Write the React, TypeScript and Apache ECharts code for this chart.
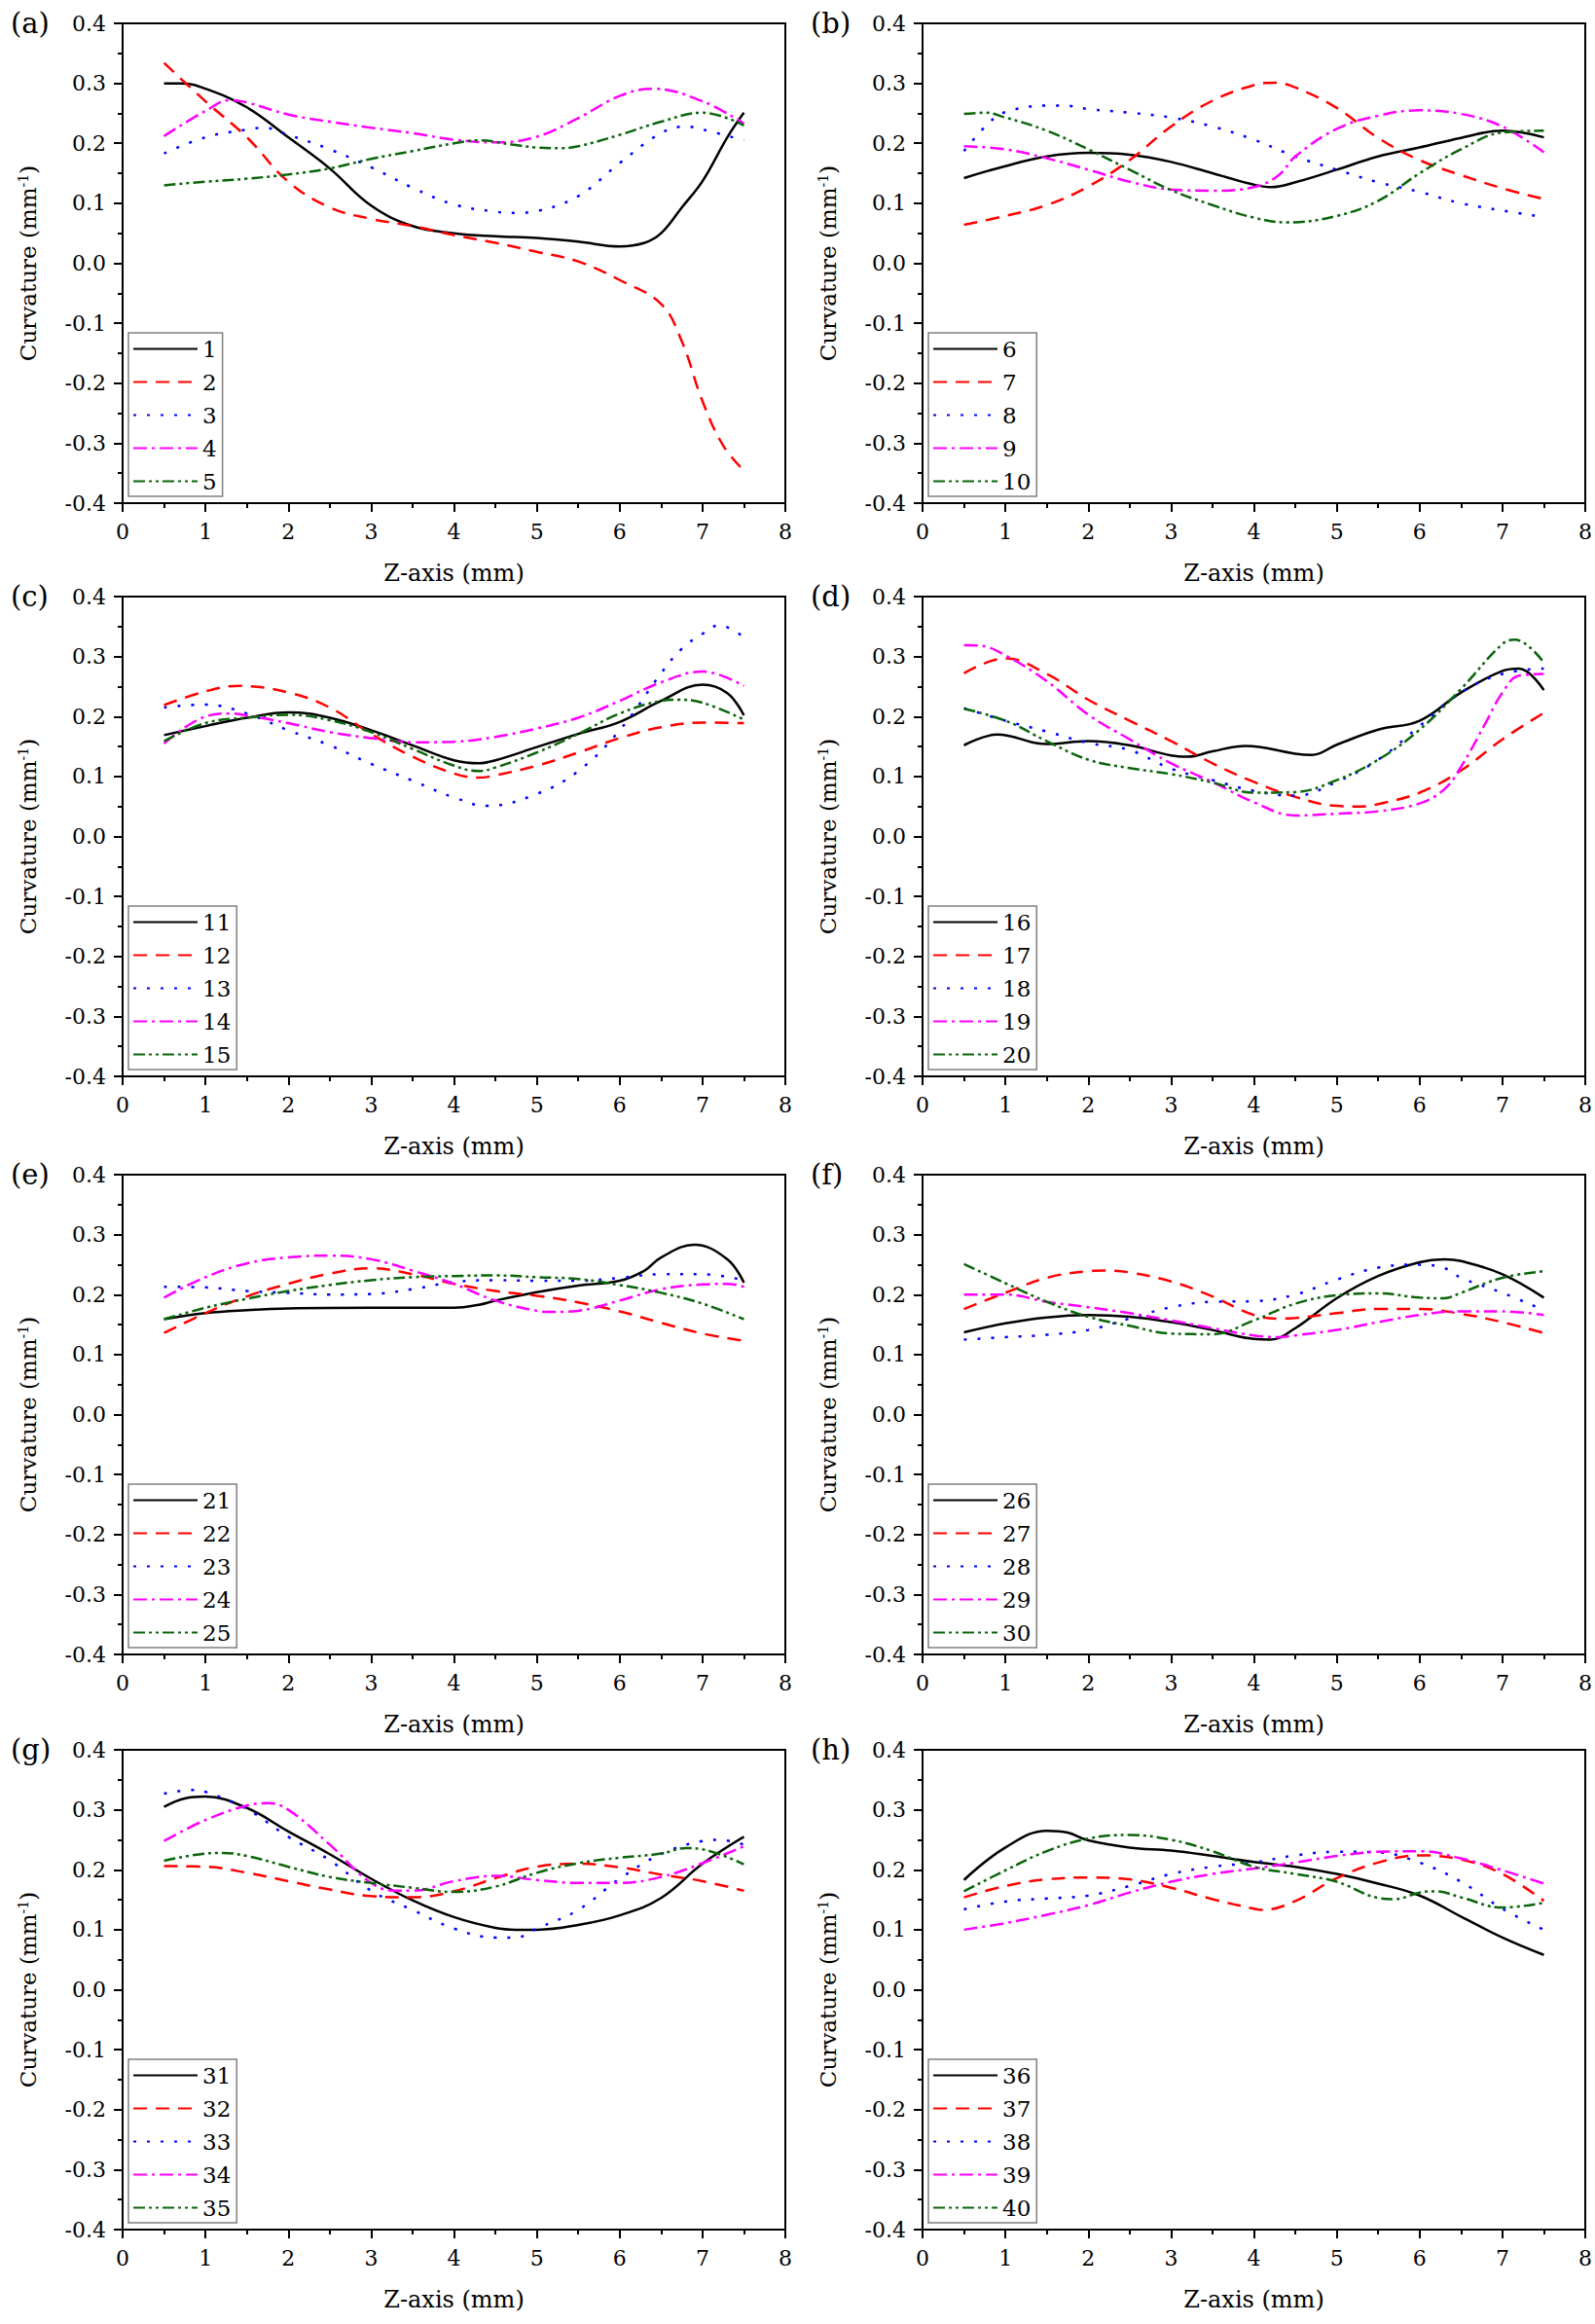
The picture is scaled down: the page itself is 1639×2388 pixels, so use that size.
import { useEffect, useRef } from 'react';
import * as echarts from 'echarts';

const FONT = 'DejaVu Serif';

// curvature (mm^-1) against z (mm), one array per line, as [z, curvature]
const s1 = [[0.5, 0.3], [0.7, 0.3], [1, 0.291], [1.5, 0.26], [2, 0.21], [2.5, 0.158], [3, 0.096], [3.5, 0.062], [4, 0.05], [4.5, 0.045], [5, 0.042], [5.5, 0.036], [6, 0.028], [6.3, 0.034], [6.5, 0.05], [6.75, 0.093], [7, 0.137], [7.3, 0.21], [7.5, 0.251]];
const s2 = [[0.5, 0.334], [1, 0.27], [1.5, 0.21], [2, 0.136], [2.5, 0.093], [3, 0.074], [3.5, 0.062], [4, 0.047], [4.5, 0.034], [5, 0.019], [5.5, 0.003], [6, -0.028], [6.5, -0.068], [6.75, -0.13], [7, -0.23], [7.25, -0.304], [7.5, -0.346]];
const s3 = [[0.5, 0.183], [1, 0.21], [1.5, 0.223], [1.7, 0.226], [2, 0.214], [2.5, 0.19], [3, 0.16], [3.5, 0.126], [4, 0.098], [4.5, 0.086], [4.75, 0.084], [5, 0.087], [5.5, 0.112], [6, 0.167], [6.5, 0.217], [6.8, 0.228], [7, 0.223], [7.5, 0.205]];
const s4 = [[0.5, 0.212], [1, 0.254], [1.3, 0.272], [1.5, 0.268], [2, 0.248], [2.5, 0.236], [3, 0.226], [3.5, 0.217], [4, 0.206], [4.5, 0.2015], [5, 0.211], [5.5, 0.242], [6, 0.279], [6.4, 0.291], [7, 0.27], [7.5, 0.233]];
const s5 = [[0.5, 0.13], [1, 0.136], [1.5, 0.141], [2, 0.148], [2.5, 0.158], [3, 0.174], [3.5, 0.187], [4, 0.2], [4.3, 0.205], [4.7, 0.198], [5, 0.193], [5.3, 0.192], [5.5, 0.195], [6, 0.214], [6.5, 0.236], [7, 0.251], [7.5, 0.23]];

const s6 = [[0.5, 0.142], [1, 0.162], [1.5, 0.178], [2, 0.184], [2.5, 0.181], [3, 0.169], [3.5, 0.15], [4, 0.131], [4.2, 0.127], [4.5, 0.135], [5, 0.156], [5.5, 0.178], [6, 0.193], [6.5, 0.209], [7, 0.221], [7.5, 0.21]];
const s7 = [[0.5, 0.064], [1, 0.079], [1.5, 0.097], [2, 0.128], [2.5, 0.172], [3, 0.228], [3.5, 0.271], [4, 0.297], [4.25, 0.301], [4.5, 0.293], [5, 0.259], [5.5, 0.209], [6, 0.172], [6.5, 0.147], [7, 0.125], [7.5, 0.107]];
const s8 = [[0.5, 0.187], [0.8, 0.234], [1, 0.252], [1.5, 0.263], [1.7, 0.263], [2, 0.257], [2.5, 0.251], [3, 0.243], [3.5, 0.228], [4, 0.206], [4.5, 0.178], [5, 0.156], [5.5, 0.135], [6, 0.119], [6.5, 0.1], [7, 0.088], [7.5, 0.077]];
const s9 = [[0.5, 0.195], [1, 0.19], [1.5, 0.175], [2, 0.156], [2.5, 0.136], [3, 0.123], [3.5, 0.121], [4, 0.127], [4.3, 0.147], [4.5, 0.178], [5, 0.224], [5.5, 0.246], [6, 0.255], [6.5, 0.249], [7, 0.228], [7.5, 0.185]];
const s10 = [[0.5, 0.249], [0.75, 0.251], [1, 0.243], [1.5, 0.221], [2, 0.19], [2.5, 0.156], [3, 0.122], [3.5, 0.097], [4, 0.076], [4.4, 0.068], [5, 0.079], [5.5, 0.104], [6, 0.15], [6.5, 0.19], [7, 0.218], [7.5, 0.221]];

const s11 = [[0.5, 0.169], [1, 0.184], [1.5, 0.198], [2, 0.207], [2.5, 0.198], [3, 0.177], [3.5, 0.152], [4, 0.127], [4.3, 0.122], [4.5, 0.127], [5, 0.149], [5.5, 0.171], [6, 0.191], [6.5, 0.226], [7, 0.253], [7.3, 0.239], [7.5, 0.202]];
const s12 = [[0.5, 0.219], [1, 0.242], [1.4, 0.251], [2, 0.24], [2.5, 0.215], [3, 0.171], [3.5, 0.133], [4, 0.105], [4.3, 0.098], [4.5, 0.102], [5, 0.118], [5.5, 0.14], [6, 0.164], [6.5, 0.182], [7, 0.19], [7.5, 0.189]];
const s13 = [[0.5, 0.215], [1, 0.22], [1.5, 0.205], [2, 0.177], [2.5, 0.152], [3, 0.121], [3.5, 0.093], [4, 0.065], [4.4, 0.051], [5, 0.071], [5.5, 0.109], [6, 0.177], [6.5, 0.272], [6.75, 0.313], [7, 0.338], [7.2, 0.352], [7.5, 0.332]];
const s14 = [[0.5, 0.155], [1, 0.2], [1.3, 0.205], [1.5, 0.202], [2, 0.189], [2.5, 0.174], [3, 0.164], [3.5, 0.157], [4, 0.158], [4.5, 0.166], [5, 0.18], [5.5, 0.198], [6, 0.226], [6.5, 0.257], [7, 0.275], [7.5, 0.251]];
const s15 = [[0.5, 0.159], [1, 0.189], [1.5, 0.198], [2, 0.203], [2.5, 0.194], [3, 0.174], [3.5, 0.146], [4, 0.118], [4.3, 0.109], [4.5, 0.115], [5, 0.14], [5.5, 0.171], [6, 0.205], [6.5, 0.226], [6.7, 0.228], [7, 0.223], [7.5, 0.195]];

const s16 = [[0.5, 0.152], [0.9, 0.17], [1.5, 0.154], [2, 0.159], [2.5, 0.152], [3, 0.135], [3.2, 0.133], [3.5, 0.142], [3.9, 0.151], [4.5, 0.138], [4.7, 0.136], [5, 0.153], [5.5, 0.178], [6, 0.193], [6.5, 0.24], [7, 0.276], [7.2, 0.28], [7.5, 0.244]];
const s17 = [[0.5, 0.272], [1, 0.297], [1.5, 0.271], [2, 0.228], [2.5, 0.193], [3, 0.159], [3.5, 0.122], [4, 0.091], [4.5, 0.066], [5, 0.051], [5.3, 0.05], [5.5, 0.054], [6, 0.073], [6.5, 0.11], [7, 0.162], [7.5, 0.206]];
const s18 = [[0.5, 0.214], [1, 0.193], [1.5, 0.175], [2, 0.156], [2.5, 0.144], [3, 0.113], [3.5, 0.094], [4, 0.076], [4.5, 0.068], [5, 0.091], [5.5, 0.128], [6, 0.184], [6.5, 0.24], [7, 0.271], [7.5, 0.28]];
const s19 = [[0.5, 0.319], [0.7, 0.318], [1, 0.302], [1.5, 0.259], [2, 0.203], [2.5, 0.162], [3, 0.122], [3.5, 0.091], [4, 0.057], [4.5, 0.035], [5, 0.038], [5.5, 0.042], [6, 0.055], [6.3, 0.079], [6.5, 0.116], [6.8, 0.19], [7, 0.24], [7.2, 0.268], [7.5, 0.271]];
const s20 = [[0.5, 0.213], [1, 0.193], [1.5, 0.159], [2, 0.128], [2.5, 0.114], [3, 0.104], [3.5, 0.09], [4, 0.073], [4.5, 0.074], [5, 0.094], [5.5, 0.128], [6, 0.178], [6.5, 0.246], [7, 0.321], [7.15, 0.328], [7.5, 0.29]];

const s21 = [[0.5, 0.159], [1, 0.169], [1.5, 0.174], [2, 0.177], [3, 0.178], [4, 0.178], [4.3, 0.183], [4.5, 0.19], [5, 0.204], [5.5, 0.215], [6, 0.223], [6.3, 0.24], [6.5, 0.262], [6.9, 0.283], [7.3, 0.259], [7.5, 0.22]];
const s22 = [[0.5, 0.136], [1, 0.169], [1.5, 0.197], [2, 0.218], [2.5, 0.235], [3, 0.244], [3.5, 0.234], [4, 0.218], [4.5, 0.206], [5, 0.198], [5.5, 0.187], [6, 0.172], [6.5, 0.153], [7, 0.135], [7.5, 0.123]];
const s23 = [[0.5, 0.213], [1, 0.212], [1.5, 0.206], [2, 0.203], [2.5, 0.2], [3, 0.201], [3.5, 0.209], [4, 0.221], [4.5, 0.224], [5, 0.223], [5.5, 0.223], [6, 0.228], [6.5, 0.234], [7, 0.234], [7.5, 0.224]];
const s24 = [[0.5, 0.195], [1, 0.229], [1.5, 0.252], [2, 0.262], [2.5, 0.265], [3, 0.259], [3.5, 0.24], [4, 0.218], [4.5, 0.19], [5, 0.173], [5.2, 0.171], [5.5, 0.173], [6, 0.19], [6.5, 0.209], [7, 0.217], [7.3, 0.218], [7.5, 0.213]];
const s25 = [[0.5, 0.159], [1, 0.178], [1.5, 0.193], [2, 0.206], [2.5, 0.216], [3, 0.224], [3.5, 0.229], [4, 0.231], [4.5, 0.232], [5, 0.229], [5.5, 0.226], [6, 0.216], [6.5, 0.203], [7, 0.185], [7.5, 0.159]];

const s26 = [[0.5, 0.137], [1, 0.152], [1.5, 0.162], [2, 0.166], [2.5, 0.163], [3, 0.154], [3.5, 0.141], [4, 0.126], [4.2, 0.125], [4.5, 0.144], [5, 0.194], [5.5, 0.231], [6, 0.254], [6.3, 0.259], [6.5, 0.256], [7, 0.234], [7.5, 0.195]];
const s27 = [[0.5, 0.176], [1, 0.203], [1.5, 0.228], [2, 0.239], [2.2, 0.24], [2.5, 0.237], [3, 0.222], [3.5, 0.197], [4, 0.166], [4.3, 0.16], [4.5, 0.161], [5, 0.169], [5.5, 0.176], [6, 0.176], [6.5, 0.168], [7, 0.154], [7.5, 0.136]];
const s28 = [[0.5, 0.125], [1, 0.129], [1.5, 0.133], [2, 0.141], [2.5, 0.16], [3, 0.179], [3.5, 0.188], [4, 0.189], [4.5, 0.2], [5, 0.225], [5.5, 0.245], [6, 0.25], [6.3, 0.244], [6.5, 0.228], [7, 0.203], [7.5, 0.174]];
const s29 = [[0.5, 0.2], [1, 0.2], [1.5, 0.188], [2, 0.179], [2.5, 0.169], [3, 0.157], [3.5, 0.144], [4, 0.132], [4.3, 0.129], [4.5, 0.132], [5, 0.141], [5.5, 0.154], [6, 0.166], [6.5, 0.172], [7, 0.172], [7.5, 0.166]];
const s30 = [[0.5, 0.251], [1, 0.219], [1.5, 0.188], [2, 0.163], [2.5, 0.148], [3, 0.135], [3.5, 0.134], [4, 0.157], [4.5, 0.185], [5, 0.199], [5.5, 0.202], [6, 0.195], [6.3, 0.194], [6.5, 0.203], [7, 0.228], [7.5, 0.239]];

const s31 = [[0.5, 0.305], [0.75, 0.319], [1, 0.322], [1.5, 0.303], [2, 0.264], [2.5, 0.226], [3, 0.185], [3.5, 0.149], [4, 0.121], [4.5, 0.103], [4.75, 0.1], [5, 0.1], [5.5, 0.108], [6, 0.124], [6.5, 0.153], [7, 0.21], [7.5, 0.255]];
const s32 = [[0.5, 0.206], [1, 0.205], [1.5, 0.195], [2, 0.181], [2.5, 0.167], [3, 0.156], [3.5, 0.154], [4, 0.164], [4.5, 0.186], [5, 0.205], [5.5, 0.21], [6, 0.204], [6.5, 0.192], [7, 0.181], [7.5, 0.165]];
const s33 = [[0.5, 0.327], [0.85, 0.333], [1, 0.33], [1.5, 0.301], [2, 0.255], [2.5, 0.216], [3, 0.165], [3.5, 0.133], [4, 0.102], [4.5, 0.087], [4.75, 0.087], [5, 0.102], [5.5, 0.133], [6, 0.185], [6.5, 0.226], [7, 0.248], [7.2, 0.25], [7.5, 0.242]];
const s34 = [[0.5, 0.248], [1, 0.283], [1.5, 0.307], [1.75, 0.311], [2, 0.3], [2.5, 0.242], [3, 0.178], [3.3, 0.165], [3.5, 0.165], [4, 0.181], [4.5, 0.19], [5, 0.183], [5.5, 0.178], [6, 0.178], [6.5, 0.188], [7, 0.211], [7.5, 0.239]];
const s35 = [[0.5, 0.215], [1, 0.227], [1.2, 0.228], [1.5, 0.223], [2, 0.205], [2.5, 0.188], [3, 0.178], [3.5, 0.17], [4, 0.163], [4.5, 0.172], [5, 0.195], [5.5, 0.211], [6, 0.22], [6.5, 0.227], [6.8, 0.236], [7, 0.234], [7.5, 0.209]];

const s36 = [[0.5, 0.183], [1, 0.237], [1.5, 0.265], [1.75, 0.262], [2, 0.249], [2.5, 0.237], [3, 0.232], [3.5, 0.223], [4, 0.213], [4.5, 0.205], [5, 0.193], [5.5, 0.177], [6, 0.157], [6.5, 0.122], [7, 0.087], [7.5, 0.058]];
const s37 = [[0.5, 0.154], [1, 0.173], [1.5, 0.184], [2, 0.187], [2.5, 0.184], [3, 0.17], [3.5, 0.151], [4, 0.135], [4.1, 0.133], [4.5, 0.148], [5, 0.186], [5.5, 0.212], [6, 0.224], [6.5, 0.217], [7, 0.193], [7.5, 0.148]];
const s38 = [[0.5, 0.134], [1, 0.147], [1.5, 0.152], [2, 0.157], [2.5, 0.173], [3, 0.193], [3.5, 0.205], [4, 0.212], [4.5, 0.224], [5, 0.23], [5.5, 0.229], [6, 0.212], [6.5, 0.18], [7, 0.135], [7.5, 0.1]];
const s39 = [[0.5, 0.1], [1, 0.111], [1.5, 0.125], [2, 0.141], [2.5, 0.162], [3, 0.18], [3.5, 0.193], [4, 0.202], [4.5, 0.212], [5, 0.223], [5.5, 0.23], [6, 0.231], [6.5, 0.219], [7, 0.199], [7.5, 0.177]];
const s40 = [[0.5, 0.164], [1, 0.199], [1.5, 0.231], [2, 0.252], [2.5, 0.258], [3, 0.25], [3.5, 0.231], [4, 0.205], [4.5, 0.193], [5, 0.18], [5.5, 0.153], [5.7, 0.151], [6, 0.162], [6.2, 0.164], [6.5, 0.154], [7, 0.137], [7.5, 0.145]];

const panelLabels = ['(a)', '(b)', '(c)', '(d)', '(e)', '(f)', '(g)', '(h)'];
const panelSeries = [
  [s1, s2, s3, s4, s5],
  [s6, s7, s8, s9, s10],
  [s11, s12, s13, s14, s15],
  [s16, s17, s18, s19, s20],
  [s21, s22, s23, s24, s25],
  [s26, s27, s28, s29, s30],
  [s31, s32, s33, s34, s35],
  [s36, s37, s38, s39, s40]
];

// one style per position within a panel
const lineColors = ['#000000', '#ff0000', '#0000ff', '#ff00ff', '#0b650b'];
const lineDashes: any[] = ['solid', [14, 9], [3, 11], [14, 5, 3, 5], [12, 4, 3, 4, 3, 4]];

const colLeft = [126, 948];
const rowTop = [24, 613, 1207, 1798];
const plotW = 681;
const plotH = 493;
const W = 1639;
const H = 2388;

function tickLabel(v: number) {
  if (Math.abs(v) < 1e-9) return '0.0';
  return v.toFixed(1);
}

export default function App() {
  const ref = useRef<HTMLDivElement>(null);

  useEffect(() => {
    if (!ref.current) return;
    const chart = echarts.init(ref.current, undefined, { renderer: 'svg' });

    const black = { color: '#000', width: 2 };
    const grid: any[] = [];
    const xAxis: any[] = [];
    const yAxis: any[] = [];
    const legend: any[] = [];
    const title: any[] = [];
    const series: any[] = [];
    let n = 0;

    panelSeries.forEach((group, i) => {
      const left = colLeft[i % 2];
      const top = rowTop[Math.floor(i / 2)];

      grid.push({
        left, top, width: plotW, height: plotH,
        show: true, borderColor: '#000', borderWidth: 2
      });

      xAxis.push({
        gridIndex: i,
        type: 'value',
        min: 0,
        max: 8,
        interval: 1,
        name: 'Z-axis (mm)',
        nameLocation: 'middle',
        nameGap: 60,
        nameTextStyle: { fontFamily: FONT, fontSize: 24, color: '#000' },
        axisLine: { show: true, onZero: false, lineStyle: black },
        axisTick: { show: true, length: 9, lineStyle: black },
        minorTick: { show: true, splitNumber: 2, length: 5, lineStyle: black },
        axisLabel: { fontFamily: FONT, fontSize: 22, color: '#000', margin: 18 },
        splitLine: { show: false }
      });

      yAxis.push({
        gridIndex: i,
        type: 'value',
        min: -0.4,
        max: 0.4,
        interval: 0.1,
        name: 'Curvature (mm{sup|-1})',
        nameLocation: 'middle',
        nameRotate: 90,
        nameGap: 86,
        nameTextStyle: {
          fontFamily: FONT, fontSize: 23, color: '#000',
          rich: { sup: { fontFamily: FONT, fontSize: 14, color: '#000', verticalAlign: 'top' } }
        },
        axisLine: { show: true, onZero: false, lineStyle: black },
        axisTick: { show: true, length: 9, lineStyle: black },
        minorTick: { show: true, splitNumber: 2, length: 5, lineStyle: black },
        axisLabel: { fontFamily: FONT, fontSize: 22, color: '#000', margin: 17, formatter: tickLabel },
        splitLine: { show: false }
      });

      title.push({
        text: panelLabels[i],
        left: left - 120,
        top: top - 20,
        textStyle: { fontFamily: FONT, fontSize: 29, fontWeight: 'normal', color: '#000' }
      });

      const names: string[] = [];
      group.forEach((data, j) => {
        n += 1;
        const name = String(n);
        names.push(name);
        series.push({
          type: 'line',
          name,
          xAxisIndex: i,
          yAxisIndex: i,
          data,
          symbol: 'none',
          smooth: 0.4,
          lineStyle: { color: lineColors[j], width: 2.5, type: lineDashes[j] },
          itemStyle: { color: lineColors[j] },
          emphasis: { disabled: true }
        });
      });

      legend.push({
        data: names,
        orient: 'vertical',
        left: left + 6,
        top: top + plotH - 6 - 169,
        itemWidth: 66,
        itemHeight: 14,
        itemGap: 11,
        padding: [5, 6, 4, 4],
        borderColor: '#808080',
        borderWidth: 1.5,
        backgroundColor: '#fff',
        selectedMode: false,
        itemStyle: { opacity: 0 },
        textStyle: { fontFamily: FONT, fontSize: 23, color: '#000' }
      });
    });

    chart.setOption({
      animation: false,
      backgroundColor: '#fff',
      title,
      grid,
      xAxis,
      yAxis,
      legend,
      series
    });

    return () => chart.dispose();
  }, []);

  return (
    <div
      ref={ref}
      style={{ position: 'absolute', left: 0, top: 0, width: W, height: H, background: '#fff' }}
    />
  );
}
